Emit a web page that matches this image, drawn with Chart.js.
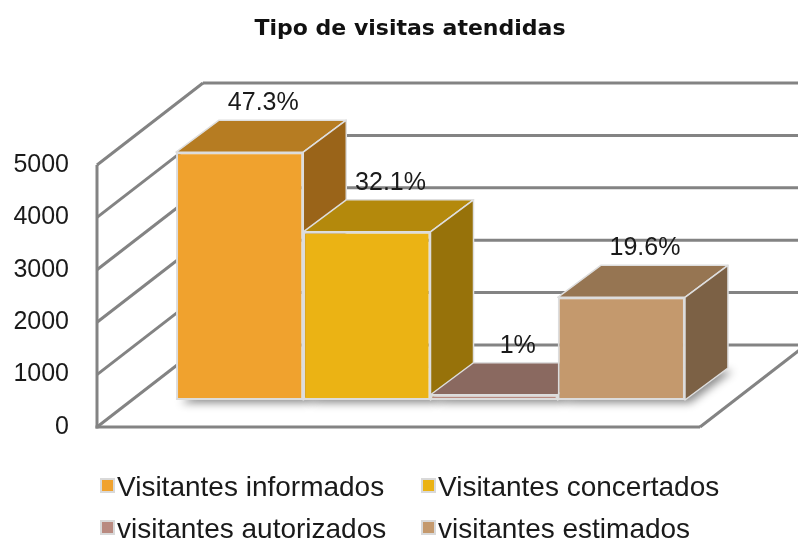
<!DOCTYPE html>
<html>
<head>
<meta charset="utf-8">
<script src="https://cdn.jsdelivr.net/npm/chart.js@4.4.1/dist/chart.umd.min.js"></script>
<style>
html, body { margin: 0; padding: 0; background: #ffffff; }
#wrap { position: relative; width: 798px; height: 543px; overflow: hidden; }
#c { position: absolute; left: 0; top: 0; }
.lg-item { position: absolute; height: 28px; }
.lg-box { position: absolute; left: 0; width: 11px; height: 11px; border: 2px solid #d9d9d9; }
.lg-text { position: absolute; top: 0; font-family: 'Liberation Sans', Arial, sans-serif; font-size: 28px; line-height: 28px; color: #1a1a1a; white-space: nowrap; }
</style>
</head>
<body>
<div id="wrap">
  <canvas id="c" width="820" height="543"></canvas>
  <div id="legend"></div>
</div>
<script>
// ---- data ----
const categories = ['Tipo de visitas atendidas'];
const seriesNames = ['Visitantes informados', 'Visitantes concertados', 'visitantes autorizados', 'visitantes estimados'];
const seriesValues = [4730, 3210, 100, 1960];
const seriesPercentLabels = ['47.3%', '32.1%', '1%', '19.6%'];
const yTicks = [0, 1000, 2000, 3000, 4000, 5000];

// ---- styles ----
const frontColors = ['#F0A22E', '#EBB314', '#B98A80', '#C4996D'];
const topColors   = ['#B67C22', '#B4890C', '#8A6960', '#967552'];
const sideColors  = ['#9A6419', '#97720A', '#735750', '#7C6145'];
const WALL = { dx: 106, dy: -82 };
const BAR_SHIFT = { dx: 32, dy: -27 };
const BAR_DEPTH = { dx: 43, dy: -32 };

function line(ctx, x1, y1, x2, y2) {
  ctx.beginPath(); ctx.moveTo(x1, y1); ctx.lineTo(x2, y2); ctx.stroke();
}
function poly(ctx, pts, fill, stroke) {
  ctx.beginPath();
  ctx.moveTo(pts[0][0], pts[0][1]);
  for (let k = 1; k < pts.length; k++) ctx.lineTo(pts[k][0], pts[k][1]);
  ctx.closePath();
  ctx.fillStyle = fill; ctx.fill();
  if (stroke !== false) ctx.stroke();
}

const threeD = {
  id: 'threeD',
  beforeDatasetsDraw(chart) {
    const { ctx, chartArea: a, scales } = chart;
    const y = scales.y;
    ctx.save();
    ctx.strokeStyle = '#838383';
    ctx.lineWidth = 3;
    ctx.lineCap = 'butt';
    const yMin = y.getPixelForValue(yTicks[0]);
    const yMax = y.getPixelForValue(yTicks[yTicks.length - 1]);
    yTicks.forEach(v => {
      const py = y.getPixelForValue(v);
      line(ctx, a.left, py, a.left + WALL.dx, py + WALL.dy);
      line(ctx, a.left + WALL.dx, py + WALL.dy, a.right + WALL.dx, py + WALL.dy);
    });
    line(ctx, a.left, yMin + 1.5, a.left, yMax);
    line(ctx, a.left - 1.5, yMin, a.right, yMin);
    line(ctx, a.right, yMin, a.right + WALL.dx, yMin + WALL.dy);

    const dx = BAR_DEPTH.dx, dy = BAR_DEPTH.dy;
    const rects = [];
    chart.data.datasets.forEach((ds, i) => {
      const meta = chart.getDatasetMeta(i);
      meta.data.forEach(el => {
        const p = el.getProps(['x', 'y', 'base', 'width'], true);
        rects.push({
          i,
          l: p.x - p.width / 2 + BAR_SHIFT.dx,
          r: p.x + p.width / 2 + BAR_SHIFT.dx,
          t: p.y + BAR_SHIFT.dy,
          b: p.base + BAR_SHIFT.dy
        });
      });
    });

    // soft shadow of the bars on the floor
    ctx.save();
    ctx.shadowColor = 'rgba(0,0,0,0.45)';
    ctx.shadowBlur = 9;
    ctx.shadowOffsetX = 5;
    ctx.shadowOffsetY = 3;
    rects.forEach(q => {
      poly(ctx, [[q.l, q.b], [q.r, q.b], [q.r + dx, q.b + dy], [q.l + dx, q.b + dy]], '#ffffff', false);
    });
    ctx.restore();

    // 3D top and side faces of bars, left to right
    ctx.strokeStyle = '#dedede';
    ctx.lineWidth = 1.5;
    ctx.lineJoin = 'round';
    rects.forEach(q => {
      poly(ctx, [[q.l, q.t], [q.r, q.t], [q.r + dx, q.t + dy], [q.l + dx, q.t + dy]], topColors[q.i]);
      poly(ctx, [[q.r, q.t], [q.r + dx, q.t + dy], [q.r + dx, q.b + dy], [q.r, q.b]], sideColors[q.i]);
    });
    ctx.restore();
  },
  beforeDatasetDraw(chart) {
    chart.ctx.save();
    chart.ctx.translate(BAR_SHIFT.dx, BAR_SHIFT.dy);
  },
  afterDatasetDraw(chart) {
    chart.ctx.restore();
  },
  afterDatasetsDraw(chart) {
    const ctx = chart.ctx;
    ctx.save();
    ctx.font = '25px "Liberation Sans", Arial, sans-serif';
    ctx.fillStyle = '#1a1a1a';
    ctx.textAlign = 'center';
    ctx.textBaseline = 'alphabetic';
    chart.data.datasets.forEach((ds, i) => {
      const meta = chart.getDatasetMeta(i);
      meta.data.forEach(el => {
        const p = el.getProps(['x', 'y'], true);
        const cx = p.x + BAR_SHIFT.dx + BAR_DEPTH.dx * 0.55;
        const by = p.y + BAR_SHIFT.dy + BAR_DEPTH.dy - 10;
        ctx.fillText(seriesPercentLabels[i], cx, by);
      });
    });
    ctx.restore();
  }
};

const chart = new Chart(document.getElementById('c'), {
  type: 'bar',
  data: {
    labels: categories,
    datasets: seriesNames.map((name, i) => ({
      label: name,
      data: [seriesValues[i]],
      backgroundColor: frontColors[i],
      borderColor: '#dcdcdc',
      borderWidth: 2,
      borderSkipped: false,
      clip: false,
      yAxisID: 'y'
    }))
  },
  options: {
    responsive: false,
    animation: false,
    devicePixelRatio: 1,
    layout: { padding: { left: 0, right: 0, top: 0, bottom: 116 } },
    datasets: { bar: { categoryPercentage: 0.844, barPercentage: 1 } },
    plugins: {
      legend: { display: false },
      tooltip: { enabled: false },
      title: {
        display: true,
        text: 'Tipo de visitas atendidas',
        color: '#111111',
        font: { family: 'DejaVu Sans', size: 22, weight: 'bold' },
        padding: { top: 16, bottom: 122.6 }
      }
    },
    scales: {
      x: { display: false },
      y: {
        position: 'left',
        min: 0,
        max: 5000,
        afterBuildTicks(s) { s.ticks = yTicks.map(v => ({ value: v })); },
        ticks: {
          padding: 28,
          color: '#1a1a1a',
          font: { family: 'Liberation Sans', size: 25 },
          callback: v => String(v)
        },
        grid: { display: false, drawTicks: false },
        border: { display: false },
        afterFit(s) { s.width = 97; }
      },
      yR: {
        type: 'linear',
        position: 'right',
        display: true,
        grid: { display: false, drawTicks: false },
        border: { display: false },
        ticks: { display: false },
        afterFit(s) { s.width = 120; }
      }
    }
  },
  plugins: [threeD]
});

// ---- legend (two columns, two rows) ----
const legendCols = [100, 421];
const legendRows = [473, 515];
const legendEl = document.getElementById('legend');
seriesNames.forEach((name, i) => {
  const item = document.createElement('div');
  item.className = 'lg-item';
  item.style.left = legendCols[i % 2] + 'px';
  item.style.top = legendRows[Math.floor(i / 2)] + 'px';
  const box = document.createElement('div');
  box.className = 'lg-box';
  box.style.top = '5px';
  box.style.background = frontColors[i];
  const txt = document.createElement('div');
  txt.className = 'lg-text';
  txt.style.left = '17px';
  txt.textContent = name;
  item.appendChild(box);
  item.appendChild(txt);
  legendEl.appendChild(item);
});
</script>
</body>
</html>
